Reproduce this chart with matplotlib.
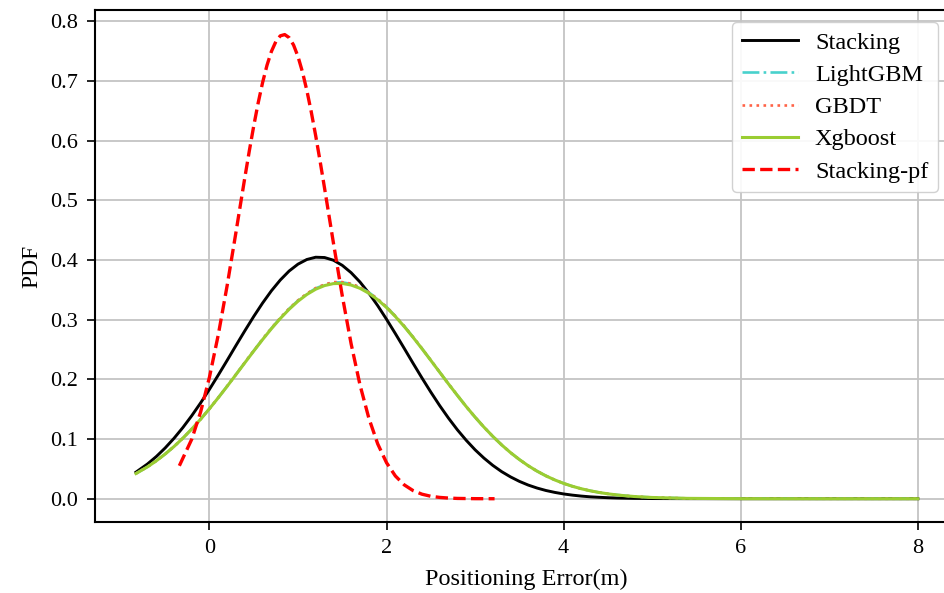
import matplotlib.pyplot as plt

plt.rcParams['font.family'] = ['Liberation Serif', 'DejaVu Serif']

# values
x_base = [-0.83, -0.7, -0.6, -0.5, -0.4, -0.3, -0.2, -0.1, 0.0, 0.1, 0.2, 0.3, 0.4,
          0.5, 0.6, 0.7, 0.8, 0.9, 1.0, 1.1, 1.2, 1.3, 1.4, 1.5, 1.6, 1.7, 1.8, 1.9,
          2.0, 2.1, 2.2, 2.3, 2.4, 2.5, 2.6, 2.7, 2.8, 2.9, 3.0, 3.1, 3.2, 3.3, 3.4,
          3.5, 3.6, 3.7, 3.8, 3.9, 4.0, 4.1, 4.2, 4.3, 4.4, 4.5, 4.6, 4.7, 4.8,
          5.0, 5.4, 6.0, 7.0, 8.0]
stacking = [0.0445, 0.0582, 0.0707, 0.0851, 0.1013, 0.1193, 0.1391, 0.1605, 0.1833,
            0.2073, 0.2319, 0.2569, 0.2815, 0.3054, 0.3279, 0.3485, 0.3665, 0.3816,
            0.3931, 0.4009, 0.4047, 0.4042, 0.3997, 0.3911, 0.3788, 0.3632, 0.3446,
            0.3236, 0.3007, 0.2766, 0.2519, 0.2269, 0.2024, 0.1787, 0.1561, 0.1350,
            0.1155, 0.0979, 0.0820, 0.0681, 0.0559, 0.0454, 0.0366, 0.0291, 0.0229,
            0.0179, 0.0138, 0.0106, 0.0080, 0.0060, 0.0044, 0.0032, 0.0024, 0.0017,
            0.0012, 0.0009, 0.0006, 0.0003, 0.0001, 0.0, 0.0, 0.0]
lightgbm = [0.0422, 0.0534, 0.0635, 0.0749, 0.0875, 0.1015, 0.1168, 0.1332, 0.1508,
            0.1694, 0.1886, 0.2083, 0.2282, 0.2478, 0.2672, 0.2855, 0.3028, 0.3183,
            0.3320, 0.3433, 0.3525, 0.3585, 0.3625, 0.3626, 0.3600, 0.3540, 0.3458,
            0.3345, 0.3214, 0.3060, 0.2892, 0.2708, 0.2518, 0.2320, 0.2122, 0.1924,
            0.1732, 0.1544, 0.1367, 0.1200, 0.1045, 0.0902, 0.0773, 0.0657, 0.0553,
            0.0462, 0.0383, 0.0315, 0.0257, 0.0208, 0.0167, 0.0133, 0.0105, 0.0082,
            0.0064, 0.0049, 0.0037, 0.0021, 0.0006, 0.0001, 0.0, 0.0]
gbdt = [0.0422, 0.0534, 0.0635, 0.0749, 0.0875, 0.1015, 0.1168, 0.1332, 0.1508,
        0.1695, 0.1887, 0.2084, 0.2284, 0.2480, 0.2675, 0.2858, 0.3031, 0.3187,
        0.3324, 0.3437, 0.3530, 0.3590, 0.3630, 0.3630, 0.3604, 0.3543, 0.3460,
        0.3346, 0.3215, 0.3060, 0.2893, 0.2708, 0.2518, 0.2320, 0.2122, 0.1924,
        0.1732, 0.1544, 0.1367, 0.1200, 0.1045, 0.0902, 0.0773, 0.0657, 0.0553,
        0.0462, 0.0383, 0.0315, 0.0257, 0.0208, 0.0167, 0.0133, 0.0105, 0.0082,
        0.0064, 0.0049, 0.0037, 0.0021, 0.0006, 0.0001, 0.0, 0.0]
xgboost = [0.0422, 0.0534, 0.0635, 0.0749, 0.0875, 0.1015, 0.1168, 0.1332, 0.1508,
           0.1693, 0.1884, 0.2081, 0.2279, 0.2475, 0.2667, 0.2850, 0.3020, 0.3175,
           0.3310, 0.3423, 0.3511, 0.3572, 0.3605, 0.3608, 0.3581, 0.3526, 0.3443,
           0.3335, 0.3204, 0.3053, 0.2885, 0.2704, 0.2514, 0.2318, 0.2120, 0.1923,
           0.1731, 0.1544, 0.1367, 0.1200, 0.1045, 0.0902, 0.0773, 0.0657, 0.0553,
           0.0462, 0.0383, 0.0315, 0.0257, 0.0208, 0.0167, 0.0133, 0.0105, 0.0082,
           0.0064, 0.0049, 0.0037, 0.0021, 0.0006, 0.0001, 0.0, 0.0]

x_pf = [-0.34, -0.2, -0.1, 0.0, 0.1, 0.2, 0.3, 0.35, 0.4, 0.45, 0.5, 0.55, 0.6, 0.65,
        0.7, 0.75, 0.8, 0.85, 0.9, 0.95, 1.0, 1.05, 1.1, 1.15, 1.2, 1.25, 1.3, 1.35,
        1.4, 1.5, 1.6, 1.7, 1.8, 1.9, 2.0, 2.1, 2.2, 2.3, 2.4, 2.5, 2.6, 2.7, 2.8,
        3.0, 3.22]
stacking_pf = [0.0552, 0.0997, 0.1452, 0.2036, 0.2749, 0.3573, 0.4470, 0.4930, 0.5385,
               0.5827, 0.6246, 0.6631, 0.6973, 0.7264, 0.7496, 0.7661, 0.7757, 0.7778,
               0.7727, 0.7603, 0.7410, 0.7154, 0.6842, 0.6481, 0.6082, 0.5653, 0.5204,
               0.4746, 0.4287, 0.3401, 0.2596, 0.1908, 0.1351, 0.0920, 0.0603, 0.0381,
               0.0232, 0.0136, 0.0076, 0.0041, 0.0022, 0.0011, 0.0005, 0.0001, 0.0]

fig = plt.figure(figsize=(9.44, 5.93), dpi=100)
ax = fig.add_axes([95/944, 71/593, 862/944, 512/593])

ax.plot(x_base, stacking, color='black', lw=2.1, label='Stacking')
ax.plot(x_base, lightgbm, color='mediumturquoise', lw=1.9, linestyle='-.', label='LightGBM')
ax.plot(x_base, gbdt, color='tomato', lw=1.9, linestyle=':', label='GBDT')
ax.plot(x_base, xgboost, color='yellowgreen', lw=2.2, label='Xgboost')
ax.plot(x_pf, stacking_pf, color='red', lw=2.4, linestyle='--', label='Stacking-pf')

ax.set_xlim(-1.2925, 8.4425)
ax.set_ylim(-0.039, 0.819)
ax.set_xticks([0, 2, 4, 6, 8])
ax.set_yticks([0.0, 0.1, 0.2, 0.3, 0.4, 0.5, 0.6, 0.7, 0.8])
ax.grid(True, color='#c4c4c4', lw=1.3)
ax.set_axisbelow(True)
for s in ax.spines.values():
    s.set_linewidth(1.5)
ax.tick_params(labelsize=16, length=6, width=1.2, pad=6)

ax.set_xlabel('Positioning Error(m)', fontsize=17.5, labelpad=8)
ax.set_ylabel('PDF', fontsize=17, labelpad=6)

ax.legend(loc='upper right', bbox_to_anchor=(938/944, 1 - 22/593),
          bbox_transform=fig.transFigure, borderaxespad=0, fontsize=17.5,
          handlelength=2.3, handletextpad=0.7, labelspacing=0.42,
          fancybox=True, framealpha=0.9, edgecolor='#cccccc')

fig.savefig('out.png', dpi=100)
